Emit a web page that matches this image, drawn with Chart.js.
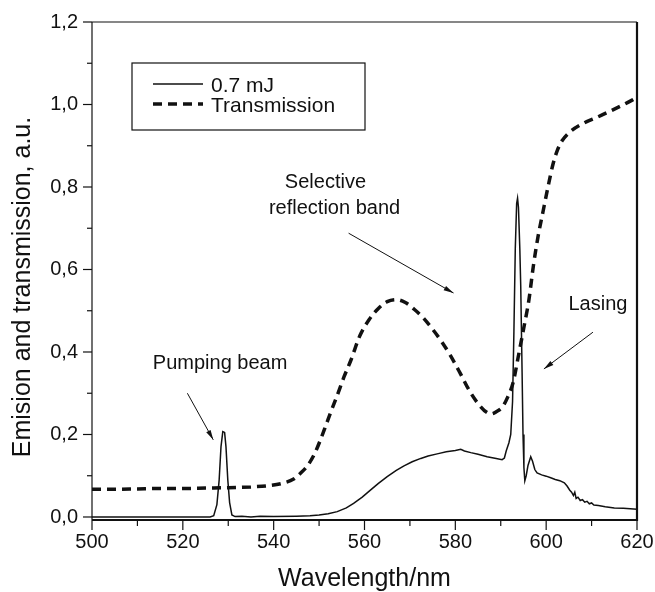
<!DOCTYPE html>
<html lang="en">
<head>
  <meta charset="UTF-8" />
  <title>Emission and transmission</title>
  <script src="https://cdn.jsdelivr.net/npm/chart.js"></script>
  <style>
    body { margin: 0; background: #fff; }
  </style>
</head>
<body>
  <canvas id="spectrum" width="655" height="592"></canvas>

  <script>
    // emission spectrum, 0.7 mJ pump
    const emisWl = [500, 510, 520, 526, 526.8, 527.5, 528, 528.4, 528.8, 529.2, 529.5, 529.9, 530.3, 530.8, 531.5,
      533, 535, 537, 540, 545, 548, 550, 552, 554, 556, 557.6, 559.5, 561.3, 563, 565, 567, 568.7, 570.5, 572.4,
      574, 576, 578, 580, 581.2, 582, 583.4, 585, 587, 589, 590.3, 590.8, 591.2, 591.8, 592.2, 592.6, 592.9,
      593.2, 593.5, 593.7, 593.9, 594.2, 594.4, 594.7, 594.9, 595.1, 595.3, 595.6, 596, 596.6, 597, 597.5,
      598, 599, 600, 601, 602, 603, 604, 604.6, 605.2, 605.6, 606, 606.3, 606.6, 607, 607.5, 608, 608.5,
      609, 609.5, 610, 610.5, 611.5, 613, 615, 617, 620];
    const emisVal = [0, 0, 0, 0, 0.003, 0.03, 0.09, 0.17, 0.207, 0.205, 0.17, 0.09, 0.035, 0.005, 0.001,
      0.002, 0, 0.002, 0.001, 0.002, 0.003, 0.005, 0.008, 0.013, 0.022, 0.033, 0.048, 0.065, 0.081, 0.098, 0.113, 0.124, 0.134, 0.142,
      0.148, 0.153, 0.158, 0.161, 0.164, 0.160, 0.156, 0.152, 0.146, 0.142, 0.139, 0.143, 0.16, 0.18, 0.2, 0.28, 0.45,
      0.65, 0.76, 0.773, 0.75, 0.65, 0.56, 0.35, 0.2, 0.12, 0.088, 0.1, 0.125, 0.146, 0.135, 0.115,
      0.107, 0.102, 0.099, 0.095, 0.091, 0.088, 0.083, 0.075, 0.065, 0.06, 0.052, 0.06, 0.045, 0.048, 0.04, 0.042, 0.036,
      0.038, 0.032, 0.034, 0.029, 0.028, 0.025, 0.022, 0.021, 0.019];

    // transmission curve
    const transWl = [500, 505, 510, 515, 520, 525, 530, 535, 539, 542, 544.4, 546, 547.5, 549, 550.3, 551.5, 552.5,
      554, 555.5, 557, 559, 561, 563, 565, 567, 569, 571, 573, 575, 577, 579, 581, 583, 585, 587, 588, 589,
      590.4, 591.5, 592.7, 594, 595.1, 596.2, 597.2, 598.2, 599.3, 600.4, 601.5, 602.5, 603.5, 605.4, 608.3,
      611.4, 614.3, 617.1, 620];
    const transVal = [0.067, 0.067, 0.068, 0.069, 0.069, 0.070, 0.071, 0.073, 0.076, 0.082, 0.092, 0.107, 0.125, 0.153, 0.187, 0.222, 0.252,
      0.295, 0.34, 0.38, 0.44, 0.478, 0.505, 0.522, 0.527, 0.52, 0.503, 0.482, 0.455, 0.425, 0.39, 0.35, 0.308, 0.275, 0.253, 0.25, 0.255,
      0.267, 0.29, 0.325, 0.397, 0.46, 0.526, 0.61, 0.679, 0.74, 0.80, 0.855, 0.89, 0.912, 0.935, 0.955,
      0.97, 0.985, 1.0, 1.017];

    const xTicks = [500, 520, 540, 560, 580, 600, 620];
    const xMinor = [510, 530, 550, 570, 590, 610];
    const yTicks = [0, 0.2, 0.4, 0.6, 0.8, 1.0, 1.2];
    const yMinor = [0.1, 0.3, 0.5, 0.7, 0.9, 1.1];

    const seriesLabels = ['0.7 mJ', 'Transmission'];

    // text notes and arrows, in data units
    const notes = [
      { text: 'Selective', x: 551.4, y: 0.81 },
      { text: 'reflection band', x: 553.4, y: 0.749 },
      { text: 'Lasing', x: 611.4, y: 0.516 },
      { text: 'Pumping beam', x: 528.2, y: 0.372 }
    ];
    const arrows = [
      { from: [556.5, 0.688], to: [579.6, 0.543] },
      { from: [610.3, 0.448], to: [599.5, 0.359] },
      { from: [521.0, 0.300], to: [526.7, 0.187] }
    ];

    const FONT = "'Liberation Sans', Arial, sans-serif";
    const INK = '#111';
    const DASH = [9, 6];

    function toXY(xs, ys) {
      return xs.map((x, i) => ({ x: x, y: ys[i] }));
    }

    function line(ctx, x1, y1, x2, y2) {
      ctx.beginPath();
      ctx.moveTo(x1, y1);
      ctx.lineTo(x2, y2);
      ctx.stroke();
    }

    // frame, tick marks, y title
    const axisFrame = {
      id: 'axisFrame',
      afterDraw(chart) {
        const { ctx, chartArea: a, scales: { x, y } } = chart;
        ctx.save();
        ctx.strokeStyle = INK;
        ctx.lineWidth = 1.2;
        line(ctx, a.left, a.top, a.right, a.top);
        line(ctx, a.left, a.top, a.left, a.bottom);
        ctx.lineWidth = 2.2;
        line(ctx, a.right, a.top, a.right, a.bottom + 1);
        ctx.lineWidth = 2;
        line(ctx, a.left, a.bottom, a.right + 1, a.bottom);

        ctx.lineWidth = 1.2;
        yTicks.forEach(v => { const p = y.getPixelForValue(v); line(ctx, a.left - 9, p, a.left, p); });
        yMinor.forEach(v => { const p = y.getPixelForValue(v); line(ctx, a.left - 5, p, a.left, p); });
        xTicks.forEach(v => { const p = x.getPixelForValue(v); line(ctx, p, a.bottom, p, a.bottom + 10); });
        xMinor.forEach(v => { const p = x.getPixelForValue(v); line(ctx, p, a.bottom, p, a.bottom + 6); });

        // y axis title, a bit below the centre like the original
        ctx.fillStyle = INK;
        ctx.font = '25px ' + FONT;
        ctx.textAlign = 'center';
        ctx.textBaseline = 'middle';
        ctx.translate(23, 287);
        ctx.rotate(-Math.PI / 2);
        ctx.fillText('Emision and transmission, a.u.', 0, 0);
        ctx.restore();
      }
    };

    // legend box in the top left corner
    const legendBox = {
      id: 'legendBox',
      afterDraw(chart) {
        const ctx = chart.ctx;
        ctx.save();
        ctx.strokeStyle = INK;
        ctx.lineWidth = 1.2;
        ctx.strokeRect(132, 63, 233, 67);

        ctx.lineWidth = 1.5;
        line(ctx, 153, 84, 203, 84);
        ctx.lineWidth = 3.5;
        ctx.setLineDash(DASH);
        line(ctx, 153, 104, 203, 104);
        ctx.setLineDash([]);

        ctx.fillStyle = INK;
        ctx.font = '21px ' + FONT;
        ctx.textAlign = 'left';
        ctx.textBaseline = 'middle';
        ctx.fillText(seriesLabels[0], 211, 86);
        ctx.fillText(seriesLabels[1], 211, 106);
        ctx.restore();
      }
    };

    const notesPlugin = {
      id: 'notes',
      afterDraw(chart) {
        const { ctx, scales: { x, y } } = chart;
        ctx.save();
        ctx.fillStyle = INK;
        ctx.strokeStyle = INK;
        ctx.font = '20px ' + FONT;
        ctx.textAlign = 'center';
        ctx.textBaseline = 'middle';
        notes.forEach(n => ctx.fillText(n.text, x.getPixelForValue(n.x), y.getPixelForValue(n.y)));

        ctx.lineWidth = 1;
        arrows.forEach(ar => {
          const x1 = x.getPixelForValue(ar.from[0]), y1 = y.getPixelForValue(ar.from[1]);
          const x2 = x.getPixelForValue(ar.to[0]), y2 = y.getPixelForValue(ar.to[1]);
          line(ctx, x1, y1, x2, y2);
          const ang = Math.atan2(y2 - y1, x2 - x1);
          ctx.beginPath();
          ctx.moveTo(x2, y2);
          ctx.lineTo(x2 - 10 * Math.cos(ang) + 2.5 * Math.sin(ang), y2 - 10 * Math.sin(ang) - 2.5 * Math.cos(ang));
          ctx.lineTo(x2 - 10 * Math.cos(ang) - 2.5 * Math.sin(ang), y2 - 10 * Math.sin(ang) + 2.5 * Math.cos(ang));
          ctx.closePath();
          ctx.fill();
        });
        ctx.restore();
      }
    };

    Chart.defaults.color = INK;
    Chart.defaults.font.family = FONT;

    new Chart(document.getElementById('spectrum'), {
      type: 'line',
      data: {
        datasets: [
          {
            label: seriesLabels[0],
            data: toXY(emisWl, emisVal),
            borderColor: INK,
            borderWidth: 1.5,
            pointRadius: 0,
            tension: 0
          },
          {
            label: seriesLabels[1],
            data: toXY(transWl, transVal),
            borderColor: INK,
            borderWidth: 3.5,
            borderDash: DASH,
            pointRadius: 0,
            cubicInterpolationMode: 'monotone'
          }
        ]
      },
      options: {
        responsive: false,
        animation: false,
        events: [],
        layout: { padding: { top: 22, right: 18, left: 0, bottom: 0 } },
        plugins: {
          legend: { display: false },
          tooltip: { enabled: false }
        },
        scales: {
          x: {
            type: 'linear',
            min: 500,
            max: 620,
            afterFit: s => { s.height = 72; s.paddingLeft = 0; s.paddingRight = 0; },
            afterBuildTicks: s => { s.ticks = xTicks.map(v => ({ value: v })); },
            grid: { display: false, drawTicks: false },
            border: { display: false },
            ticks: { font: { size: 20 }, padding: 10, maxRotation: 0, autoSkip: false },
            title: {
              display: true,
              text: 'Wavelength/nm',
              font: { size: 25, lineHeight: 1 },
              padding: { top: 0, bottom: 0 }
            }
          },
          y: {
            min: -0.0073,
            max: 1.2,
            afterFit: s => { s.width = 92; s.paddingTop = 0; s.paddingBottom = 0; },
            afterBuildTicks: s => { s.ticks = yTicks.map(v => ({ value: v })); },
            grid: { display: false, drawTicks: false },
            border: { display: false },
            ticks: {
              font: { size: 20 },
              padding: 14,
              autoSkip: false,
              callback: v => v.toFixed(1).replace('.', ',')
            }
          }
        }
      },
      plugins: [axisFrame, legendBox, notesPlugin]
    });
  </script>
</body>
</html>
